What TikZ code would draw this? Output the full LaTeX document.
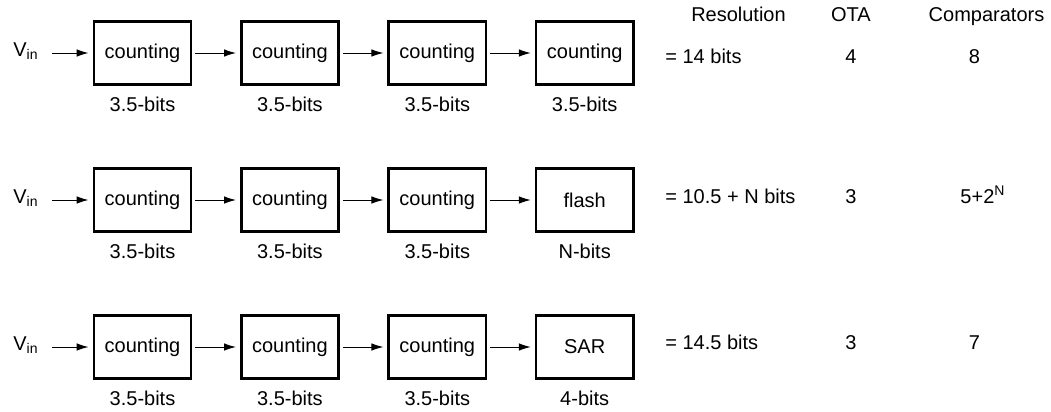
\documentclass[tikz,border=0pt]{standalone}
\usepackage{fontspec}
\setmainfont{Liberation Sans}
\usetikzlibrary{arrows.meta,positioning}

\begin{document}
\begin{tikzpicture}[x=0.5pt,y=-0.5pt,
  font=\fontsize{10}{12}\selectfont,
  stage/.style={draw,line width=1.3pt,minimum width=48.6pt,minimum height=31.7pt,inner sep=0pt},
  bits/.style={inner sep=0pt,text height=7.1pt,text depth=0pt},
  val/.style={inner sep=0pt,anchor=base},
  vin/.style={inner sep=0pt,anchor=base west},
  arr/.style={-{Latex[length=6pt,width=3.8pt]},line width=0.5pt,shorten >=2pt,shorten <=1.5pt}]

\useasboundingbox (0,0) rectangle (1051,412);

% column heads
\node[val] (hres) at (738.5,21) {Resolution};
\node[val] (hota) at (851,21) {OTA};
\node[val] (hcmp) at (986.5,21) {Comparators};

% row 1: four counting stages
\node[vin] (vin1) at (13,56) {V\textsubscript{in}};
\node[stage] (a1) at (142.5,53) {counting};
\node[stage,right=23.8pt of a1] (a2) {counting};
\node[stage,right=23.8pt of a2] (a3) {counting};
\node[stage,right=23.8pt of a3] (a4) {counting};
\node[bits,below=5.5pt of a1] (a1b) {3.5-bits};
\node[bits,below=5.5pt of a2] (a2b) {3.5-bits};
\node[bits,below=5.5pt of a3] (a3b) {3.5-bits};
\node[bits,below=5.5pt of a4] (a4b) {3.5-bits};
\node[val,anchor=base west] (ares) at (665,63) {= 14 bits};
\node[val] (aota) at (851,63) {4};
\node[val] (acmp) at (974.5,63) {8};

\draw[arr,shorten <=6.5pt] (a1.west -| vin1.east) -- (a1.west);
\draw[arr] (a1) -- (a2);
\draw[arr] (a2) -- (a3);
\draw[arr] (a3) -- (a4);

% row 2: three counting stages + flash
\node[vin] (vin2) at (13,203) {V\textsubscript{in}};
\node[stage] (b1) at (142.5,200) {counting};
\node[stage,right=23.8pt of b1] (b2) {counting};
\node[stage,right=23.8pt of b2] (b3) {counting};
\node[stage,right=23.8pt of b3] (b4) {flash};
\node[bits,below=5.5pt of b1] (b1b) {3.5-bits};
\node[bits,below=5.5pt of b2] (b2b) {3.5-bits};
\node[bits,below=5.5pt of b3] (b3b) {3.5-bits};
\node[bits,below=5.5pt of b4] (b4b) {N-bits};
\node[val,anchor=base west] (bres) at (665,203) {= 10.5 + N bits};
\node[val] (bota) at (851,203) {3};
\node[val] (bcmp) at (983,203) {5+2\textsuperscript{N}};

\draw[arr,shorten <=6.5pt] (b1.west -| vin2.east) -- (b1.west);
\draw[arr] (b1) -- (b2);
\draw[arr] (b2) -- (b3);
\draw[arr] (b3) -- (b4);

% row 3: three counting stages + SAR
\node[vin] (vin3) at (13,350) {V\textsubscript{in}};
\node[stage] (c1) at (142.5,347) {counting};
\node[stage,right=23.8pt of c1] (c2) {counting};
\node[stage,right=23.8pt of c2] (c3) {counting};
\node[stage,right=23.8pt of c3] (c4) {SAR};
\node[bits,below=5.5pt of c1] (c1b) {3.5-bits};
\node[bits,below=5.5pt of c2] (c2b) {3.5-bits};
\node[bits,below=5.5pt of c3] (c3b) {3.5-bits};
\node[bits,below=5.5pt of c4] (c4b) {4-bits};
\node[val,anchor=base west] (cres) at (665,349) {= 14.5 bits};
\node[val] (cota) at (851,349) {3};
\node[val] (ccmp) at (974.5,349) {7};

\draw[arr,shorten <=6.5pt] (c1.west -| vin3.east) -- (c1.west);
\draw[arr] (c1) -- (c2);
\draw[arr] (c2) -- (c3);
\draw[arr] (c3) -- (c4);
\end{tikzpicture}
\end{document}
